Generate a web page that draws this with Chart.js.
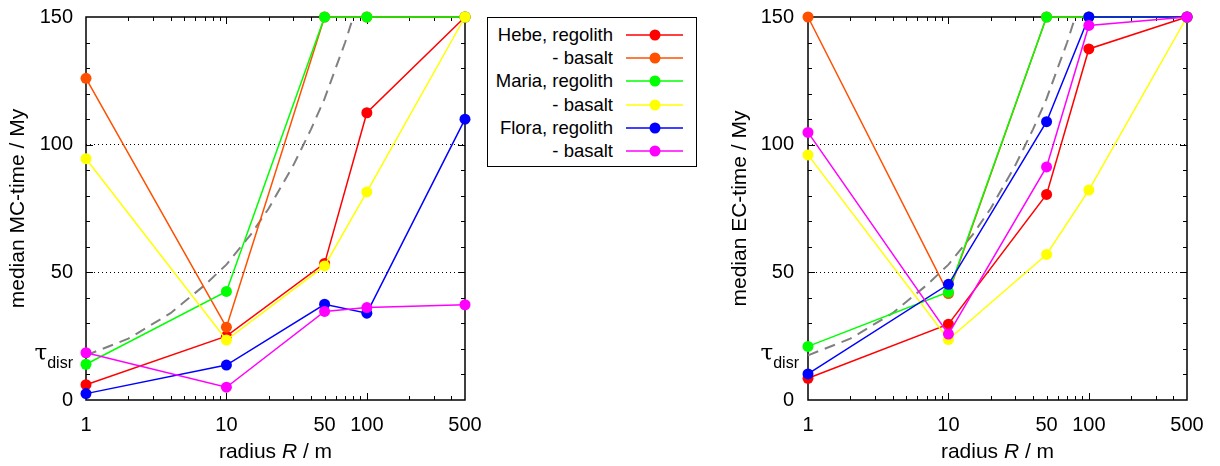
<!DOCTYPE html>
<html>
<head>
<meta charset="utf-8">
<script src="https://cdn.jsdelivr.net/npm/chart.js@4"></script>
<style>
  body { margin: 0; background: #fff; width: 1220px; height: 466px; position: relative; overflow: hidden;
         font-family: "Liberation Sans", Arial, sans-serif; }
  #mc { position: absolute; left: 0; top: 0; }
  #ec { position: absolute; left: 700px; top: 0; }
  #legend { position: absolute; left: 487px; top: 17px; width: 208px; height: 148px; border: 1px solid #000; background: #fff; }
  #legend span { position: absolute; right: 83px; font-size: 18.5px; line-height: 20px; color: #000; white-space: nowrap; }
  #legend svg { position: absolute; left: 138px; }
</style>
</head>
<body>
<canvas id="mc" width="487" height="466"></canvas>
<div id="legend"></div>
<canvas id="ec" width="520" height="466"></canvas>
<script>
// radii (m) on the x axis
var radii = [1, 10, 50, 100, 500];

var seriesNames = ['Hebe, regolith', '- basalt', 'Maria, regolith', '- basalt', 'Flora, regolith', '- basalt'];
var seriesColors = ['#ff0000', '#ff5000', '#00ff00', '#ffff00', '#0000ff', '#ff00ff'];

// median MC-time / My (left panel)
var mcHebeRegolith = [6, 25, 53.5, 112.5, 150];
var mcHebeBasalt = [126, 28.5, 150, 150, 150];
var mcMariaRegolith = [14, 42.5, 150, 150, 150];
var mcMariaBasalt = [94.5, 23.5, 52.5, 81.5, 150];
var mcFloraRegolith = [2.5, 13.7, 37.5, 34, 110];
var mcFloraBasalt = [18.5, 5, 34.7, 36.2, 37.3];

// median EC-time / My (right panel)
var ecHebeRegolith = [8.5, 29.7, 80.5, 137.5, 150];
var ecHebeBasalt = [150, 41.7, 150, 150, 150];
var ecMariaRegolith = [21, 42.3, 150, 150, 150];
var ecMariaBasalt = [96, 23.7, 57, 82.2, 150];
var ecFloraRegolith = [10.2, 45.3, 109, 150, 150];
var ecFloraBasalt = [104.8, 25.8, 91.3, 146.7, 150];

// tau_disr curve (grey dashed)
var disrRadii = [1, 2, 4, 7, 10, 15, 20, 30, 40, 50, 60, 70, 80];
var disrTime = [17.5, 24, 34, 45, 53, 65, 75, 92, 106, 118, 130, 140, 150];

var xTickValues = [1, 10, 50, 100, 500];
var xMinorTicks = [2, 3, 4, 5, 6, 7, 8, 9, 20, 30, 40, 50, 60, 70, 80, 90, 200, 300, 400];
var xMajorTicks = [10, 100];
var yTickValues = [0, 50, 100, 150];
var yMinorTicks = [10, 20, 30, 40, 50, 60, 70, 80, 90, 100, 110, 120, 130, 140];
var yMajorTicks = [50, 100];

// legend rows
var legend = document.getElementById('legend');
seriesNames.forEach(function(name, i) {
  var cy = 17 + i * 23.2;
  var span = document.createElement('span');
  span.textContent = name;
  span.style.top = (cy - 10) + 'px';
  legend.appendChild(span);
  var svg = '<svg width="57" height="12" style="top:' + (cy - 6) + 'px">' +
    '<line x1="0" y1="6" x2="57" y2="6" stroke="' + seriesColors[i] + '" stroke-width="1.5"/>' +
    '<circle cx="29" cy="6" r="5.5" fill="' + seriesColors[i] + '"/></svg>';
  legend.insertAdjacentHTML('beforeend', svg);
});

// frame, inward ticks, tau label and x title
var framePlugin = {
  id: 'frame',
  beforeDatasetsDraw: function(chart) {
    var ctx = chart.ctx, a = chart.chartArea, x = chart.scales.x, y = chart.scales.y;
    ctx.save();
    ctx.strokeStyle = '#000';
    ctx.lineWidth = 1;
    ctx.beginPath();
    xMinorTicks.concat(xMajorTicks).forEach(function(v) {
      var px = Math.round(x.getPixelForValue(v)) + 0.5;
      var len = xMajorTicks.indexOf(v) >= 0 ? 7 : 4;
      ctx.moveTo(px, a.bottom); ctx.lineTo(px, a.bottom - len);
      ctx.moveTo(px, a.top); ctx.lineTo(px, a.top + len);
    });
    yMinorTicks.forEach(function(v) {
      var py = Math.round(y.getPixelForValue(v)) + 0.5;
      var len = yMajorTicks.indexOf(v) >= 0 ? 7 : 4;
      ctx.moveTo(a.left, py); ctx.lineTo(a.left + len, py);
      ctx.moveTo(a.right, py); ctx.lineTo(a.right - len, py);
    });
    ctx.stroke();
    ctx.lineWidth = 1.5;
    ctx.strokeRect(a.left, a.top, a.right - a.left, a.bottom - a.top);
    ctx.restore();
  },
  afterDraw: function(chart) {
    var ctx = chart.ctx, a = chart.chartArea, y = chart.scales.y;
    var gap = chart.options.plugins.frame.tauGap;
    ctx.save();
    ctx.fillStyle = '#000';
    // tau_disr label
    var ty = y.getPixelForValue(disrTime[0]);
    ctx.font = '16px "Liberation Sans", Arial, sans-serif';
    var wSub = ctx.measureText('disr').width;
    ctx.textBaseline = 'alphabetic';
    ctx.textAlign = 'left';
    ctx.fillText('disr', a.left - gap - wSub, ty + 13);
    ctx.font = '23px "DejaVu Serif", serif';
    var wTau = ctx.measureText('\u03c4').width;
    ctx.fillText('\u03c4', a.left - gap - wSub - wTau, ty + 5);
    // x title with italic R
    var f = '21px "Liberation Sans", Arial, sans-serif';
    var fi = 'italic 21px "Liberation Sans", Arial, sans-serif';
    var parts = [['radius ', f], ['R', fi], [' / m', f]];
    var total = 0;
    parts.forEach(function(p) { ctx.font = p[1]; total += ctx.measureText(p[0]).width; });
    var cx = (a.left + a.right) / 2 - total / 2;
    ctx.textBaseline = 'middle';
    parts.forEach(function(p) { ctx.font = p[1]; ctx.fillText(p[0], cx, 452); cx += ctx.measureText(p[0]).width; });
    ctx.restore();
  }
};

function makeChart(id, yTitle, series, box) {
  var datasets = [{
    data: disrRadii.map(function(r, i) { return {x: r, y: disrTime[i]}; }),
    borderColor: '#808080', borderWidth: 2, borderDash: [11, 7],
    pointRadius: 0, order: 20, clip: false
  }];
  series.forEach(function(vals, i) {
    datasets.push({
      data: radii.map(function(r, j) { return {x: r, y: vals[j]}; }),
      borderColor: seriesColors[i], backgroundColor: seriesColors[i],
      borderWidth: 1.5, pointRadius: 5.5, pointBorderWidth: 0,
      order: 10 - i, clip: false
    });
  });
  return new Chart(document.getElementById(id), {
    type: 'line',
    data: {datasets: datasets},
    options: {
      responsive: false,
      animation: false,
      layout: {padding: {left: 0, right: box.right, top: 17, bottom: 0}},
      plugins: {legend: {display: false}, tooltip: {enabled: false}, frame: {tauGap: box.tauGap}},
      scales: {
        x: {
          type: 'logarithmic', min: 1, max: 500,
          afterBuildTicks: function(s) { s.ticks = xTickValues.map(function(v) { return {value: v}; }); },
          afterFit: function(s) { s.height = 66; s.paddingLeft = 0; s.paddingRight = 0; },
          ticks: {callback: function(v) { return String(v); }, font: {size: 20, family: '"Liberation Sans", Arial, sans-serif'},
                  color: '#000', padding: 5, maxRotation: 0, autoSkip: false},
          grid: {display: false},
          border: {display: false}
        },
        y: {
          min: 0, max: 150,
          afterBuildTicks: function(s) { s.ticks = yTickValues.map(function(v) { return {value: v}; }); },
          afterFit: function(s) { s.width = box.left; s.paddingTop = 0; s.paddingBottom = 0; },
          ticks: {font: {size: 20, family: '"Liberation Sans", Arial, sans-serif'}, color: '#000', padding: box.tickPad},
          grid: {
            color: function(c) { return (c.tick && c.tick.value > 0 && c.tick.value < 150) ? '#000' : 'rgba(0,0,0,0)'; },
            lineWidth: 1, drawTicks: false
          },
          border: {display: false, dash: [1, 3]},
          title: {display: true, text: yTitle, color: '#000',
                  font: {size: 21, family: '"Liberation Sans", Arial, sans-serif'}, padding: {top: box.titlePad, bottom: 0}}
        }
      }
    },
    plugins: [framePlugin]
  });
}

makeChart('mc', 'median MC-time / My',
  [mcHebeRegolith, mcHebeBasalt, mcMariaRegolith, mcMariaBasalt, mcFloraRegolith, mcFloraBasalt],
  {left: 86, right: 22, titlePad: 5.5, tickPad: 13, tauGap: 13});
makeChart('ec', 'median EC-time / My',
  [ecHebeRegolith, ecHebeBasalt, ecMariaRegolith, ecMariaBasalt, ecFloraRegolith, ecFloraBasalt],
  {left: 108, right: 33, titlePad: 27.5, tickPad: 14, tauGap: 9});
</script>
</body>
</html>
